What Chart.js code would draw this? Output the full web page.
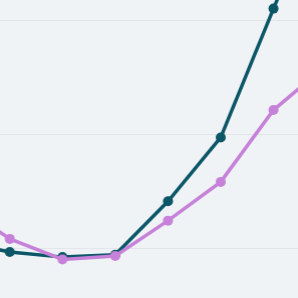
<!DOCTYPE html>
<html>
<head>
<meta charset="utf-8">
<script src="https://cdn.jsdelivr.net/npm/chart.js@4/dist/chart.umd.min.js"></script>
<style>
  html, body { margin: 0; padding: 0; width: 298px; height: 298px; overflow: hidden; background: #f0f3f6; }
  #wrap { position: absolute; left: -42.6px; top: -208px; width: 368.2px; height: 570px; }
</style>
</head>
<body>
<div id="wrap"><canvas id="chart"></canvas></div>
<script>
// chart data (the view is cropped: first and last points sit outside the frame)
const labels = ['1', '2', '3', '4', '5', '6', '7', '8'];
const tealValues = [10.6, 9.65, 9.2, 9.4, 14.1, 19.7, 31.0, 42];
const purpleValues = [14.0, 10.8, 9.0, 9.3, 12.4, 15.8, 22.1, 26.0];

const ctx = document.getElementById('chart').getContext('2d');
new Chart(ctx, {
    type: 'line',
    data: {
        labels: labels,
        datasets: [
            {
                label: 'A',
                data: purpleValues,
                borderColor: '#c681d8',
                backgroundColor: '#c681d8',
                borderWidth: 3.5,
                pointRadius: 5,
                pointBorderWidth: 0,
                tension: 0
            },
            {
                label: 'B',
                data: tealValues,
                borderColor: '#0b5667',
                backgroundColor: '#0b5667',
                borderWidth: 3.5,
                pointRadius: 5,
                pointBorderWidth: 0,
                tension: 0
            }
        ]
    },
    options: {
        responsive: true,
        maintainAspectRatio: false,
        animation: false,
        layout: { padding: 0, autoPadding: false },
        plugins: {
            legend: { display: false },
            tooltip: { enabled: false }
        },
        scales: {
            x: {
                display: false,
                offset: false
            },
            y: {
                min: 0,
                max: 50,
                ticks: { display: false, stepSize: 10 },
                grid: { color: '#e2e6ea', lineWidth: 1, drawTicks: false },
                border: { display: false },
                afterFit: function(scale) { scale.width = 0; }
            }
        }
    }
});
</script>
</body>
</html>
